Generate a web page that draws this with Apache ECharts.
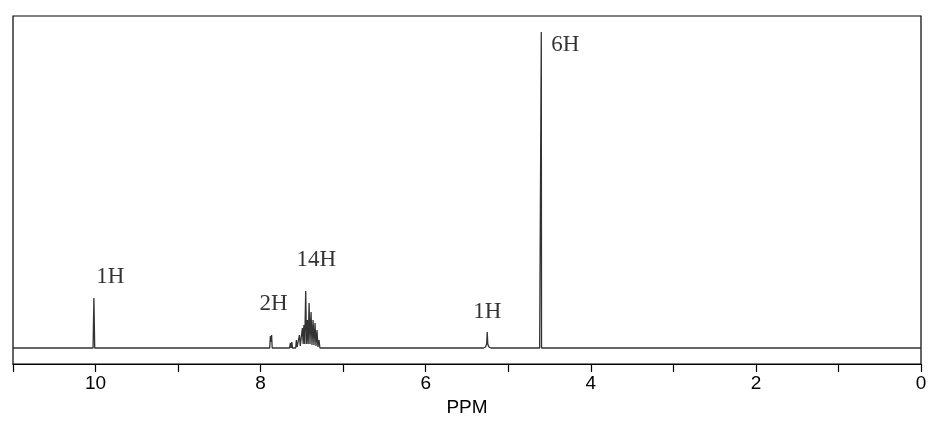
<!DOCTYPE html>
<html>
<head>
<meta charset="utf-8">
<script src="https://cdn.jsdelivr.net/npm/echarts@6/dist/echarts.min.js"></script>
<style>html,body{margin:0;padding:0;background:#fff}#c{width:944px;height:424px}</style>
</head>
<body>
<div id="c"></div>
<script>
// Spectrum vertices: chemical shift (ppm) and intensity
const spectrumPpm = [
  11.0, 10.03, 10.02, 10.01, 9.9,
  7.89, 7.882, 7.875, 7.867, 7.86, 7.80,
  7.65, 7.64, 7.632, 7.622, 7.615, 7.60, 7.575, 7.567, 7.558, 7.545, 7.530, 7.52,
  7.505, 7.494, 7.485, 7.476, 7.466, 7.454, 7.444, 7.433, 7.424, 7.413, 7.402,
  7.389, 7.378, 7.365, 7.354, 7.341, 7.330, 7.317, 7.306, 7.293, 7.282, 7.26, 7.0,
  5.30, 5.275, 5.262, 5.255, 5.248, 5.235, 5.21, 5.0,
  4.62, 4.603, 4.600, 4.597, 4.58, 4.4,
  0.0
];
const spectrumInt = [
  0, 0, 50, 0, 0,
  0, 12, 6, 13, 0, 0,
  0, 5, 0, 6, 0, 0, 0, 8, 1, 2, 13, 2,
  3, 20, 4, 23, 4, 57, 4, 28, 4, 45, 4,
  36, 3, 28, 3, 25, 2, 18, 1, 8, 0, 0, 0,
  0, 1, 4, 16, 4, 1, 0, 0,
  0, 0, 316, 0, 0, 0,
  0
];
// Integration labels
const annText = ['1H', '2H', '14H', '1H', '6H'];
const annPpm = [9.82, 7.845, 7.325, 5.254, 4.31];
const annInt = [71, 44, 88, 36, 303];
// Axis
const xTicks = [0, 2, 4, 6, 8, 10];

const chart = echarts.init(document.getElementById('c'), null, {renderer: 'canvas'});
chart.setOption({
  animation: false,
  backgroundColor: '#fff',
  grid: {left: 13, right: 23, top: 16, bottom: 60, show: true, borderColor: '#000', borderWidth: 1.2},
  xAxis: {
    type: 'value', inverse: true, min: 0, max: 11, interval: 1,
    name: 'PPM', nameLocation: 'middle', nameGap: 26,
    nameTextStyle: {fontFamily: 'Liberation Sans', fontSize: 19, color: '#000'},
    axisLine: {show: true, onZero: false, lineStyle: {color: '#000', width: 1.2}},
    axisTick: {show: true, inside: false, length: 8, lineStyle: {color: '#000', width: 1.2}},
    splitLine: {show: false},
    axisLabel: {
      margin: 10, fontFamily: 'Liberation Sans', fontSize: 19, color: '#000',
      formatter: v => xTicks.indexOf(v) >= 0 ? String(v) : ''
    }
  },
  yAxis: {
    type: 'value', min: -16, max: 332, show: false, splitLine: {show: false}
  },
  series: [
    {
      type: 'line', showSymbol: false, symbol: 'none', sampling: null,
      data: spectrumPpm.map((p, i) => [p, spectrumInt[i]]),
      lineStyle: {color: '#333', width: 1.3}
    },
    {
      type: 'scatter', symbolSize: 0,
      data: annPpm.map((p, i) => ({value: [p, annInt[i]], name: annText[i]})),
      label: {
        show: true, position: 'inside', formatter: d => d.name,
        fontFamily: 'Liberation Serif', fontSize: 23, color: '#000'
      }
    }
  ]
});
</script>
</body>
</html>
